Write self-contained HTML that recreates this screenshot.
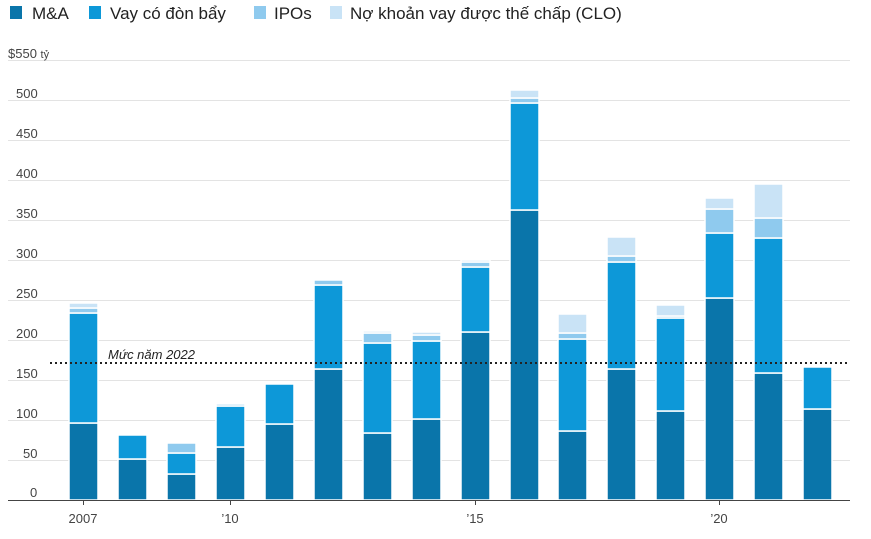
<!DOCTYPE html>
<html><head><meta charset="utf-8"><style>
html,body{margin:0;padding:0;background:#fff;}
svg{display:block;font-family:"Liberation Sans",sans-serif;}
</style></head><body>
<svg width="871" height="539" viewBox="0 0 871 539" xmlns="http://www.w3.org/2000/svg">
<g font-size="17" fill="#222">
<rect x="10" y="6" width="12" height="13" fill="#0a75aa"/><text x="32" y="19">M&amp;A</text>
<rect x="89" y="6" width="12" height="13" fill="#0d98d8"/><text x="110" y="19">Vay có đòn bẩy</text>
<rect x="254" y="6" width="12" height="13" fill="#8fcaee"/><text x="274" y="19">IPOs</text>
<rect x="330" y="6" width="12" height="13" fill="#c9e3f6"/><text x="350" y="19">Nợ khoản vay được thế chấp (CLO)</text>
</g>
<g stroke="#e3e3e3" stroke-width="1">
<line x1="8" x2="850" y1="60.5" y2="60.5"/><line x1="8" x2="850" y1="100.5" y2="100.5"/>
<line x1="8" x2="850" y1="140.5" y2="140.5"/><line x1="8" x2="850" y1="180.5" y2="180.5"/>
<line x1="8" x2="850" y1="220.5" y2="220.5"/><line x1="8" x2="850" y1="260.5" y2="260.5"/>
<line x1="8" x2="850" y1="300.5" y2="300.5"/><line x1="8" x2="850" y1="340.5" y2="340.5"/>
<line x1="8" x2="850" y1="380.5" y2="380.5"/><line x1="8" x2="850" y1="420.5" y2="420.5"/>
<line x1="8" x2="850" y1="460.5" y2="460.5"/>
</g>
<g font-size="13" fill="#444">
<text x="8" y="58">$550 <tspan font-size="11">tỷ</tspan></text>
<text x="16" y="98">500</text><text x="16" y="138">450</text><text x="16" y="178">400</text>
<text x="16" y="218">350</text><text x="16" y="258">300</text><text x="16" y="298">250</text>
<text x="16" y="338">200</text><text x="16" y="378">150</text><text x="16" y="418">100</text>
<text x="23" y="458">50</text><text x="30" y="497">0</text>
</g>
<g id="bars" stroke="#fff" stroke-width="1.5">
<!-- x, M&A top, lev top, ipo top, clo top -->
<rect x="69" y="423" width="29" height="77" fill="#0a75aa"/><rect x="69" y="313" width="29" height="110" fill="#0d98d8"/><rect x="69" y="308" width="29" height="5" fill="#8fcaee"/><rect x="69" y="303" width="29" height="5" fill="#c9e3f6"/>
<rect x="118" y="459" width="29" height="41" fill="#0a75aa"/><rect x="118" y="435" width="29" height="24" fill="#0d98d8"/>
<rect x="167" y="474" width="29" height="26" fill="#0a75aa"/><rect x="167" y="453" width="29" height="21" fill="#0d98d8"/><rect x="167" y="443" width="29" height="10" fill="#8fcaee"/>
<rect x="216" y="447" width="29" height="53" fill="#0a75aa"/><rect x="216" y="406" width="29" height="41" fill="#0d98d8"/><rect x="216" y="404" width="29" height="2" fill="#8fcaee"/>
<rect x="265" y="424" width="29" height="76" fill="#0a75aa"/><rect x="265" y="384" width="29" height="40" fill="#0d98d8"/>
<rect x="314" y="369" width="29" height="131" fill="#0a75aa"/><rect x="314" y="285" width="29" height="84" fill="#0d98d8"/><rect x="314" y="280" width="29" height="5" fill="#8fcaee"/>
<rect x="363" y="433" width="29" height="67" fill="#0a75aa"/><rect x="363" y="343" width="29" height="90" fill="#0d98d8"/><rect x="363" y="333" width="29" height="10" fill="#8fcaee"/><rect x="363" y="331" width="29" height="2" fill="#c9e3f6"/>
<rect x="412" y="419" width="29" height="81" fill="#0a75aa"/><rect x="412" y="341" width="29" height="78" fill="#0d98d8"/><rect x="412" y="335" width="29" height="6" fill="#8fcaee"/><rect x="412" y="332" width="29" height="3" fill="#c9e3f6"/>
<rect x="461" y="332" width="29" height="168" fill="#0a75aa"/><rect x="461" y="267" width="29" height="65" fill="#0d98d8"/><rect x="461" y="262" width="29" height="5" fill="#8fcaee"/><rect x="461" y="260" width="29" height="2" fill="#c9e3f6"/>
<rect x="510" y="210" width="29" height="290" fill="#0a75aa"/><rect x="510" y="103" width="29" height="107" fill="#0d98d8"/><rect x="510" y="98" width="29" height="5" fill="#8fcaee"/><rect x="510" y="90" width="29" height="8" fill="#c9e3f6"/>
<rect x="558" y="431" width="29" height="69" fill="#0a75aa"/><rect x="558" y="339" width="29" height="92" fill="#0d98d8"/><rect x="558" y="333" width="29" height="6" fill="#8fcaee"/><rect x="558" y="314" width="29" height="19" fill="#c9e3f6"/>
<rect x="607" y="369" width="29" height="131" fill="#0a75aa"/><rect x="607" y="262" width="29" height="107" fill="#0d98d8"/><rect x="607" y="256" width="29" height="6" fill="#8fcaee"/><rect x="607" y="237" width="29" height="19" fill="#c9e3f6"/>
<rect x="656" y="411" width="29" height="89" fill="#0a75aa"/><rect x="656" y="318" width="29" height="93" fill="#0d98d8"/><rect x="656" y="316" width="29" height="2" fill="#8fcaee"/><rect x="656" y="305" width="29" height="11" fill="#c9e3f6"/>
<rect x="705" y="298" width="29" height="202" fill="#0a75aa"/><rect x="705" y="233" width="29" height="65" fill="#0d98d8"/><rect x="705" y="209" width="29" height="24" fill="#8fcaee"/><rect x="705" y="198" width="29" height="11" fill="#c9e3f6"/>
<rect x="754" y="373" width="29" height="127" fill="#0a75aa"/><rect x="754" y="238" width="29" height="135" fill="#0d98d8"/><rect x="754" y="218" width="29" height="20" fill="#8fcaee"/><rect x="754" y="184" width="29" height="34" fill="#c9e3f6"/>
<rect x="803" y="409" width="29" height="91" fill="#0a75aa"/><rect x="803" y="367" width="29" height="42" fill="#0d98d8"/>
</g>
<line x1="50" x2="850" y1="363" y2="363" stroke="#222" stroke-width="2" stroke-dasharray="2,3"/>
<text x="108" y="359" font-size="13" font-style="italic" fill="#222">Mức năm 2022</text>
<line x1="8" x2="850" y1="500.5" y2="500.5" stroke="#444" stroke-width="1"/>
<g stroke="#444" stroke-width="1">
<line x1="83.5" x2="83.5" y1="500" y2="505"/><line x1="230.5" x2="230.5" y1="500" y2="505"/>
<line x1="475.5" x2="475.5" y1="500" y2="505"/><line x1="719.5" x2="719.5" y1="500" y2="505"/>
</g>
<g font-size="13" fill="#444" text-anchor="middle">
<text x="83" y="523">2007</text><text x="230" y="523">’10</text><text x="475" y="523">’15</text><text x="719" y="523">’20</text>
</g>
</svg>
</body></html>
